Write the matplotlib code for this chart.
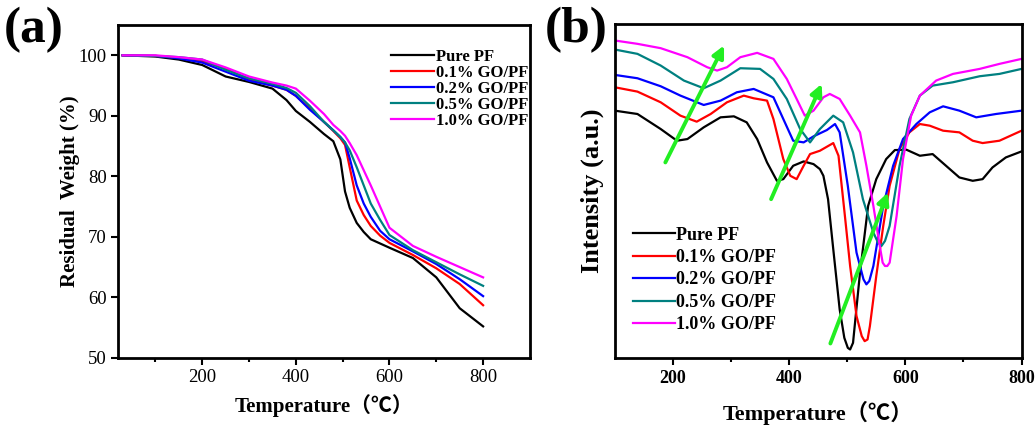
import numpy as np
import matplotlib
matplotlib.use('Agg')
import matplotlib.pyplot as plt

SERIF = ['Liberation Serif', 'Noto Sans CJK SC', 'DejaVu Sans']
plt.rcParams['font.family'] = SERIF

labels = ['Pure PF', '0.1% GO/PF', '0.2% GO/PF', '0.5% GO/PF', '1.0% GO/PF']
colors = ['#000000', '#ff0000', '#0000ff', '#008080', '#ff00ff']

# TGA: residual weight vs temperature
tga_temp = [30, 100, 150, 200, 250, 300, 350, 380, 400, 430, 460, 480, 495, 505,
            515, 530, 545, 560, 580, 600, 650, 700, 750, 800]
tga_pure = [100, 99.8, 99.3, 98.4, 96.5, 95.6, 94.5, 92.6, 90.8, 89.0, 87.0, 85.8,
            82.8, 77.5, 74.8, 72.3, 70.8, 69.6, 68.9, 68.2, 66.5, 63.3, 58.2, 55.2]
tga_01 = [100, 99.9, 99.6, 99.0, 97.8, 96.0, 95.0, 94.3, 93.3, 91.2, 89.0, 87.5,
          86.3, 85.2, 81.5, 76.0, 73.6, 71.8, 70.2, 69.0, 67.0, 64.8, 62.2, 58.7]
tga_02 = [100, 99.9, 99.5, 98.8, 97.3, 95.8, 95.0, 94.3, 93.3, 91.0, 89.0, 87.6,
          86.5, 85.6, 83.0, 78.5, 75.5, 73.3, 71.0, 69.6, 67.6, 65.5, 63.0, 60.2]
tga_05 = [100, 99.9, 99.7, 99.3, 97.6, 96.2, 95.3, 94.6, 93.8, 91.6, 89.0, 87.6,
          86.5, 85.6, 84.3, 81.5, 78.5, 75.5, 72.8, 70.3, 67.8, 65.8, 63.8, 61.9]
tga_10 = [100, 100, 99.7, 99.3, 98.0, 96.5, 95.5, 95.0, 94.5, 92.5, 90.3, 88.5,
          87.5, 86.7, 85.5, 83.5, 81.0, 78.5, 75.0, 71.5, 68.5, 66.7, 65.0, 63.3]

# DTG curves (arbitrary intensity units), one temperature list per curve
dtg_temp_pure = [100, 139, 179, 207, 225, 253, 282, 305, 327, 345, 362, 379, 390, 407,
                 425, 442, 453, 459, 467, 476, 487, 495, 501, 505, 510, 522, 536, 550,
                 567, 582, 602, 625, 647, 670, 693, 716, 733, 750, 773, 800]
dtg_pure = [74, 73, 68.5, 65, 65.5, 69, 72, 72.3, 70.5, 65.5, 58.5, 53, 53.5, 57.5,
            58.8, 58, 56.5, 54.5, 47.5, 32.5, 14.5, 6, 3, 2.5, 4.5, 25.5, 45.5, 53.5,
            59.5, 62.2, 62.3, 60.5, 61, 57.5, 54, 53, 53.5, 57, 60, 61.8]
dtg_temp_01 = [100, 139, 179, 213, 241, 265, 293, 322, 339, 362, 373, 390, 402, 413,
               425, 436, 453, 476, 485, 496, 505, 516, 525, 530, 535, 539, 550, 562,
               573, 590, 607, 625, 642, 665, 693, 716, 733, 762, 800]
dtg_01 = [81, 79.7, 76.5, 72.5, 70.7, 73, 76.5, 78.5, 77.7, 77, 71.5, 59.5, 54.5, 53.5,
          57.5, 61, 62, 64.3, 60.5, 42.5, 27.5, 12.5, 6.5, 5, 5.5, 9.5, 24.5, 39.5,
          51.5, 62.5, 67.5, 70, 69.5, 68, 67.5, 65, 64.3, 65, 68]
dtg_temp_02 = [100, 139, 179, 213, 253, 282, 310, 339, 373, 390, 407, 425, 442, 465,
               479, 487, 501, 516, 528, 533, 538, 545, 562, 579, 596, 619, 642, 665,
               693, 722, 756, 800]
dtg_02 = [84.7, 83.7, 81.3, 78.5, 75.7, 77, 79.5, 80.5, 78, 71.5, 65, 64.5, 66.3, 68.2,
          70, 67.5, 51.5, 31.5, 23.5, 22, 23, 27.5, 45.5, 57.5, 65.5, 70, 73.5, 75.3,
          74, 72, 73, 74]
dtg_temp_05 = [100, 139, 179, 219, 253, 282, 316, 350, 373, 396, 419, 436, 453, 476,
               493, 510, 527, 545, 553, 559, 565, 573, 590, 607, 625, 647, 682, 728,
               762, 800]
dtg_05 = [92.3, 91, 87.5, 83, 80.7, 83, 86.7, 86.5, 83.5, 77.5, 68.5, 64.5, 68.5, 72.5,
          70.5, 61.5, 47.5, 37.5, 34.5, 33.5, 35, 39.5, 57.5, 71.5, 78.5, 81.5, 82.5,
          84.3, 85, 86.5]
dtg_temp_10 = [100, 139, 179, 225, 259, 276, 293, 316, 345, 373, 396, 413, 427, 442,
               459, 470, 487, 505, 522, 533, 545, 556, 561, 565, 569, 573, 585, 596,
               610, 625, 653, 682, 728, 762, 800]
dtg_10 = [95, 94, 92.7, 90, 87, 86, 87, 90, 91.3, 89.5, 83.5, 77.5, 72.5, 74, 78, 79,
          77.5, 72.5, 67.5, 57.5, 45.5, 33.5, 28.5, 27.5, 27.5, 28.5, 42.5, 59.5, 72.5,
          78.5, 83, 85, 86.5, 88, 89.5]

# peak-shift arrows: (x0, y0, x1, y1)
arrows = [(187, 58.5, 288, 93.5), (369, 47.5, 456, 82), (471, 4.3, 570, 49.5)]

tga_series = [tga_pure, tga_01, tga_02, tga_05, tga_10]
dtg_series = [(dtg_temp_pure, dtg_pure), (dtg_temp_01, dtg_01), (dtg_temp_02, dtg_02),
              (dtg_temp_05, dtg_05), (dtg_temp_10, dtg_10)]

fig = plt.figure(figsize=(10.35, 4.25), dpi=100)
ax1 = fig.add_axes([0.114, 0.158, 0.398, 0.783])
ax2 = fig.add_axes([0.594, 0.158, 0.393, 0.786])

for ax in (ax1, ax2):
    for sp in ax.spines.values():
        sp.set_linewidth(2.0)
    ax.tick_params(which='major', direction='out', length=5, width=1.5)
    ax.tick_params(which='minor', direction='out', length=3, width=1.5)

# (a) TGA
for vals, c, lab in zip(tga_series, colors, labels):
    ax1.plot(tga_temp, vals, color=c, lw=1.6, label=lab)
ax1.set_xlim(20, 900)
ax1.set_ylim(50, 105)
ax1.set_xticks([200, 400, 600, 800])
ax1.set_xticks([100, 300, 500, 700], minor=True)
ax1.set_yticks([50, 60, 70, 80, 90, 100])
ax1.tick_params(axis='both', labelsize=13.5, pad=3)
ax1.set_xlabel('Temperature（℃）', fontsize=15, fontweight='bold', labelpad=6)
ax1.set_ylabel('Residual  Weight (%)', fontsize=15, fontweight='bold', labelpad=-1)
ax1.legend(loc='upper right', bbox_to_anchor=(1.02, 0.958), frameon=False,
           prop={'family': SERIF, 'weight': 'bold', 'size': 12},
           handlelength=2.6, handletextpad=0.1, labelspacing=0.0, borderaxespad=0.2)

# (b) DTG
for (t, vals), c, lab in zip(dtg_series, colors, labels):
    ax2.plot(t, vals, color=c, lw=1.6, label=lab)
for x0, y0, x1, y1 in arrows:
    ax2.annotate('', xy=(x1, y1), xytext=(x0, y0),
                 arrowprops=dict(arrowstyle='-|>,head_length=0.7,head_width=0.35',
                                 color='#22ee22', lw=2.8, shrinkA=0, shrinkB=0))
ax2.set_xlim(100, 800)
ax2.set_ylim(0, 100)
ax2.set_xticks([200, 400, 600, 800])
ax2.set_xticks([300, 500, 700], minor=True)
ax2.set_yticks([])
ax2.tick_params(axis='x', labelsize=13)
for t in ax2.get_xticklabels():
    t.set_fontweight('bold')
ax2.set_xlabel('Temperature（℃）', fontsize=16, fontweight='bold', labelpad=10)
ax2.set_ylabel('Intensity (a.u.)', fontsize=19, fontweight='bold', labelpad=8)
ax2.legend(loc='lower left', bbox_to_anchor=(0.005, 0.025), frameon=False,
           prop={'family': SERIF, 'weight': 'bold', 'size': 13},
           handlelength=2.3, handletextpad=0.1, labelspacing=0.3)

fig.text(0.004, 0.93, '(a)', fontsize=37, fontweight='bold', va='center', ha='left')
fig.text(0.526, 0.93, '(b)', fontsize=37, fontweight='bold', va='center', ha='left')

fig.savefig('out.png', dpi=100)
